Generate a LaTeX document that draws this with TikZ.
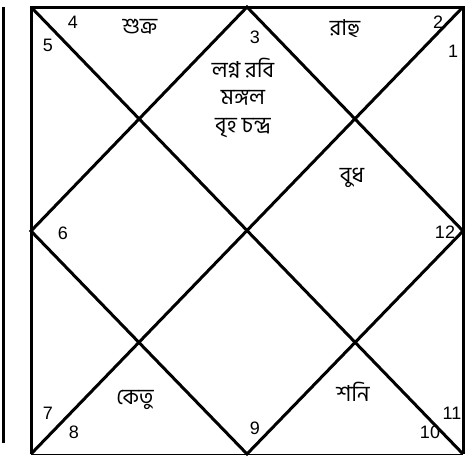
\documentclass[tikz,border=0pt]{standalone}
\usepackage{fontspec}
\setmainfont{Liberation Sans}
\newfontfamily\bnfont[Script=Bengali]{Hind Siliguri}
\begin{document}
\begin{tikzpicture}[x=1pt,y=-1pt,
  thick line/.style={line width=3pt,line cap=butt},
  thin line/.style={line width=1pt},
  num/.style={font=\fontsize{18}{18}\selectfont,inner sep=0pt},
  bn/.style={font=\bnfont\fontsize{22}{26}\selectfont,inner sep=0pt,align=center}]
\useasboundingbox (0,0) rectangle (476,456);
\fill[white] (0,0) rectangle (476,456);
% corners and midpoints
\coordinate (TL) at (31,7);
\coordinate (TR) at (463,7);
\coordinate (BL) at (31,454);
\coordinate (BR) at (463,454);
\coordinate (T) at (247,7);
\coordinate (L) at (31,231);
\coordinate (B) at (247,454);
\coordinate (R) at (463,231);
\coordinate (LT) at (3,7);
\coordinate (LB) at (3,443);
% side line
\draw[thick line] (LT) -- (LB);
% frame
\draw[thick line] (BL) -- (TL) -- (TR) -- (BR);
\draw[thin line] (BL) -- (BR);
% diagonals
\draw[thick line] (TL) -- (BR);
\draw[thick line] (TR) -- (BL);
\draw[thick line,line join=miter] (T) -- (R) -- (B) -- (L) -- cycle;
% house numbers
\node[num] (n1) at (453,51) {1};
\node[num] (n2) at (438,22) {2};
\node[num] (n3) at (255,37) {3};
\node[num] (n4) at (73,22) {4};
\node[num] (n5) at (48,45) {5};
\node[num] (n6) at (63,233) {6};
\node[num] (n7) at (48,413) {7};
\node[num] (n8) at (74,432) {8};
\node[num] (n9) at (255,428) {9};
\node[num] (n10) at (430,432) {10};
\node[num] (n11) at (452,413) {11};
\node[num] (n12) at (445,232) {12};
% planets
\node[bn] (shukra) at (140,27) {শুক্র};
\node[bn] (rahu) at (345,28) {রাহু};
\node[bn] (lagna) at (243,68) {লগ্ন রবি};
\node[bn] (mangal) at (243,98) {মঙ্গল};
\node[bn] (brihas) at (243,128) {বৃহ চন্দ্র};
\node[bn] (budh) at (352,178) {বুধ};
\node[bn] (ketu) at (135,400) {কেতু};
\node[bn] (shani) at (353,392) {শনি};
\end{tikzpicture}
\end{document}
